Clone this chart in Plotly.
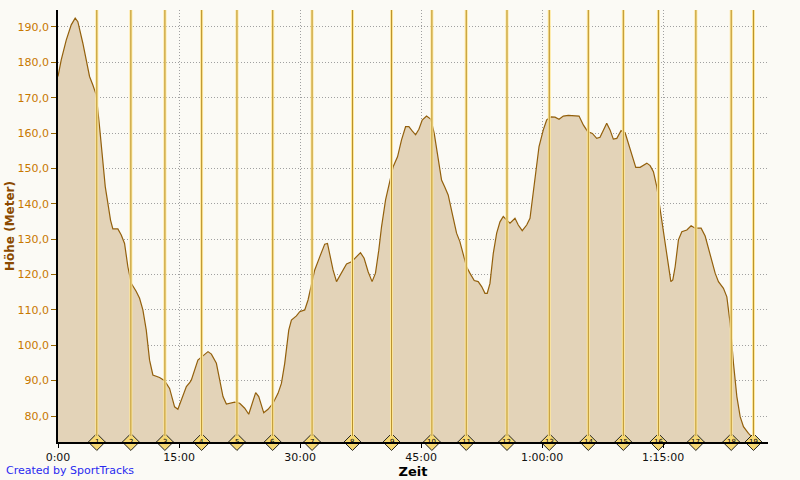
import plotly.graph_objects as go

# Elevation profile: time (minutes) and altitude (m)
time_min = [0, 0.40, 1.02, 1.64, 2.13, 2.46, 3.08, 3.50, 3.91, 4.32, 4.74, 5.15, 5.56, 5.86, 6.18,
            6.51, 6.80, 7.42, 7.84, 8.25, 8.66, 9.08, 9.70, 10.11, 10.52, 10.94, 11.35, 11.76,
            12.59, 13.21, 13.83, 14.45, 14.86, 15.29, 15.91, 16.32, 16.53, 17.34, 17.97, 18.59,
            19.01, 19.63, 20.04, 20.45, 20.87, 21.49, 21.90, 22.52, 23.14, 23.64, 24.17, 24.50,
            24.88, 25.50, 26.03, 26.65, 27.27, 27.69, 28.10, 28.60, 28.93, 29.55, 29.96, 30.58,
            30.99, 31.41, 31.82, 32.44, 33.06, 33.40, 33.68, 34.09, 34.52, 35.14, 35.76, 36.38,
            37.00, 37.49, 37.94, 38.44, 38.93, 39.35, 39.76, 40.10, 40.60, 41.00, 41.54, 42.08,
            42.58, 43.08, 43.49, 43.90, 44.32, 44.73, 45.14, 45.68, 46.22, 46.63, 47.05, 47.54,
            47.95, 48.36, 48.86, 49.40, 49.81, 50.22, 50.64, 51.05, 51.59, 52.08, 52.51, 52.92,
            53.20, 53.54, 53.95, 54.37, 54.78, 55.19, 55.61, 56.02, 56.64, 57.05, 57.54, 58.09,
            58.50, 58.78, 59.21, 59.62, 60.15, 60.57, 61.10, 61.60, 62.10, 62.63, 63.25, 64.08,
            64.58, 65.11, 65.66, 66.23, 66.77, 67.18, 67.59, 68.01, 68.42, 68.83, 69.26, 69.79,
            70.29, 70.69, 71.12, 71.61, 72.15, 72.56, 72.98, 73.39, 73.80, 74.22, 74.63, 75.04,
            75.33, 75.66, 75.96, 76.20, 76.49, 76.90, 77.32, 77.94, 78.47, 78.97, 79.71, 80.21,
            80.83, 81.45, 81.86, 82.48, 82.90, 83.31, 83.72, 84.14, 84.55, 84.96, 85.58, 86.00,
            86.29]
altitude_m = [176.0, 180.7, 186.3, 190.6, 192.5, 191.5, 185.4, 180.7, 176.0, 173.6, 170.8, 161.8,
              152.4, 144.8, 140.2, 135.4, 132.9, 132.9, 131.2, 128.8, 122.2, 117.5, 115.2, 113.3,
              110.0, 104.3, 95.8, 91.6, 90.9, 90.0, 87.8, 82.6, 81.9, 84.5, 88.3, 89.4, 90.2,
              95.8, 97.0, 98.2, 97.5, 94.9, 90.2, 85.5, 83.4, 83.6, 83.9, 83.6, 82.2, 80.5, 84.5,
              86.6, 85.5, 80.9, 81.9, 83.6, 86.4, 89.2, 94.9, 104.3, 107.1, 108.3, 109.5, 110.0,
              112.8, 117.5, 121.3, 125.0, 128.6, 128.8, 126.0, 121.3, 118.0, 120.4, 123.0, 123.6,
              125.1, 126.2, 124.6, 120.8, 118.0, 120.4, 126.9, 133.5, 141.1, 145.3, 150.5, 153.3,
              158.1, 161.8, 161.8, 160.6, 159.5, 161.1, 163.7, 164.8, 163.9, 159.9, 153.3, 146.7,
              144.7, 142.5, 137.3, 131.7, 129.3, 126.0, 122.2, 120.4, 118.3, 118.0, 116.6, 114.7,
              114.7, 117.5, 126.0, 131.7, 134.9, 136.4, 135.4, 134.5, 135.9, 134.0, 132.4, 134.0,
              135.9, 141.1, 148.6, 156.2, 160.9, 163.7, 164.6, 164.5, 163.9, 164.8, 165.0, 165.0,
              164.8, 162.3, 160.4, 159.9, 158.5, 158.8, 160.9, 162.8, 160.9, 158.3, 158.5, 160.7,
              160.1, 157.1, 153.3, 150.3, 150.3, 151.0, 151.5, 150.8, 149.1, 144.8, 138.3, 132.6,
              126.9, 121.3, 118.0, 118.5, 122.2, 129.8, 132.1, 132.6, 133.8, 133.1, 133.1, 130.9,
              126.0, 120.4, 118.0, 116.1, 113.7, 106.2, 94.9, 85.5, 79.8, 77.0, 75.1, 74.1, 73.8]

# Lap markers (minutes)
lap_times = [4.81, 9.03, 13.25, 17.80, 22.18, 26.61, 31.49, 36.50, 41.34, 46.34, 50.60,
             55.65, 60.89, 65.73, 70.07, 74.42, 79.06, 83.44, 86.20]
lap_labels = [str(i) for i in range(1, 20)]

x_tick_vals = [0, 15, 30, 45, 60, 75]
x_tick_text = ["0:00", "15:00", "30:00", "45:00", "1:00:00", "1:15:00"]

Y_MIN, Y_MAX = 72.65, 194.8
X_MIN, X_MAX = 0, 88.0
PLOT_H = 432

fig = go.Figure()

fig.add_trace(go.Scatter(
    x=time_min, y=altitude_m, mode="lines",
    line=dict(color="#93600C", width=1.2),
    fill="tozeroy", fillcolor="#E3D3B8",
    hoverinfo="skip", showlegend=False,
))

shapes = []
for t in lap_times:
    shapes.append(dict(type="line", xref="x", yref="paper", x0=t, x1=t, y0=6 / PLOT_H, y1=1,
                       line=dict(color="#FFE89A", width=3), layer="above"))
    shapes.append(dict(type="line", xref="x", yref="paper", x0=t, x1=t, y0=6 / PLOT_H, y1=1,
                       line=dict(color="#B8902C", width=1), layer="above"))

fig.add_trace(go.Scatter(
    x=lap_times, y=[Y_MIN] * len(lap_times), mode="markers",
    marker=dict(symbol="diamond", size=13, color="#F6D873",
                line=dict(color="#202020", width=1)),
    cliponaxis=False, hoverinfo="skip", showlegend=False,
))

annotations = [dict(text="Created by SportTracks", xref="paper", yref="paper",
                    x=-54 / 710, y=-29 / PLOT_H, xanchor="left", yanchor="middle",
                    showarrow=False, font=dict(color="#2A2AF0", size=11, family="DejaVu Sans"))]
for t, lab in zip(lap_times, lap_labels):
    annotations.append(dict(text=lab, x=t, y=Y_MIN, xref="x", yref="y",
                            xanchor="center", yanchor="middle", showarrow=False,
                            font=dict(size=7, color="#000000", family="DejaVu Sans")))

fig.update_layout(
    width=800, height=480,
    margin=dict(l=58, r=32, t=10, b=38, autoexpand=False),
    paper_bgcolor="#FBFAF5", plot_bgcolor="#FBFAF5",
    separators=",.",
    shapes=shapes,
    font=dict(family="DejaVu Sans", size=11),
    annotations=annotations,
)

fig.update_xaxes(
    range=[X_MIN, X_MAX], tickvals=x_tick_vals, ticktext=x_tick_text,
    showgrid=True, gridcolor="#A0A0A0", griddash="1px,2px", gridwidth=1,
    showline=True, linecolor="#000000", linewidth=1.5,
    ticks="outside", ticklen=4, tickcolor="#000000",
    tickfont=dict(color="#111111", size=11),
    title=dict(text="<b>Zeit</b>", font=dict(size=13, color="#000000"), standoff=0),
    zeroline=False, automargin=False,
)
fig.update_yaxes(
    range=[Y_MIN, Y_MAX], tick0=80, dtick=10, tickformat=".1f",
    showgrid=True, gridcolor="#A0A0A0", griddash="1px,2px", gridwidth=1,
    showline=True, linecolor="#000000", linewidth=1.5,
    ticks="outside", ticklen=5, tickcolor="#996600",
    tickfont=dict(color="#C87800", size=11),
    title=dict(text="<b>Höhe (Meter)</b>", font=dict(size=12, color="#8B4A00"), standoff=0),
    zeroline=False, automargin=False,
)

fig.write_html("out.html", config={"displayModeBar": False},
               post_script="document.body.style.margin='0px';")
